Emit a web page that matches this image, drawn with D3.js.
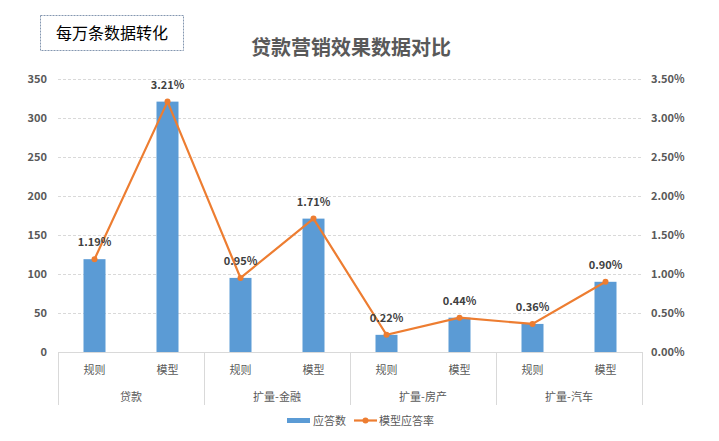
<!DOCTYPE html>
<html><head><meta charset="utf-8">
<script src="https://cdn.jsdelivr.net/npm/d3@7"></script>
<style>body{margin:0;background:#fff;} text{font-family:"Noto Sans CJK SC","Microsoft YaHei",sans-serif;}</style>
</head><body>
<svg id="chart" width="719" height="441"></svg>
<script>
const groups = ["贷款", "扩量-金融", "扩量-房产", "扩量-汽车"];
const subCats = ["规则", "模型"];
const counts = [119, 321, 95, 171, 22, 44, 36, 90];
const rates = [0.0119, 0.0321, 0.0095, 0.0171, 0.0022, 0.0044, 0.0036, 0.0090];
const rateLabels = ["1.19%", "3.21%", "0.95%", "1.71%", "0.22%", "0.44%", "0.36%", "0.90%"];
const leftTicks = [0, 50, 100, 150, 200, 250, 300, 350];
const rightTicks = [0, 0.005, 0.01, 0.015, 0.02, 0.025, 0.03, 0.035];
const title = "贷款营销效果数据对比";
const boxText = "每万条数据转化";
const legendNames = ["应答数", "模型应答率"];

const svg = d3.select("#chart");
const L = 58, R = 642, T = 79, B = 352;
const keys = [];
groups.forEach(g => subCats.forEach(s => keys.push(g + "|" + s)));
const x = d3.scaleBand().domain(keys).range([L, R]);
const xg = d3.scaleBand().domain(groups).range([L, R]);
const yL = d3.scaleLinear().domain([0, 350]).range([B, T]);
const yR = d3.scaleLinear().domain([0, 0.035]).range([B, T]);
const barColor = "#5B9BD5", lineColor = "#ED7D31", tickColor = "#595959";

// gridlines
svg.append("g").selectAll("line").data(leftTicks.slice(1)).join("line")
  .attr("x1", L).attr("x2", R).attr("y1", d => yL(d) + 0.5).attr("y2", d => yL(d) + 0.5)
  .attr("stroke", "#d9d9d9").attr("stroke-dasharray", "3,2");

// left axis
const gl = svg.append("g").attr("transform", `translate(${L},0)`)
  .call(d3.axisLeft(yL).tickValues(leftTicks).tickSize(0).tickPadding(11).tickFormat(d3.format("d")));
gl.select(".domain").remove();
gl.selectAll("text").attr("fill", tickColor).attr("font-size", 11).attr("font-weight", "bold");

// right axis
const gr = svg.append("g").attr("transform", `translate(${R},0)`)
  .call(d3.axisRight(yR).tickValues(rightTicks).tickSize(0).tickPadding(9).tickFormat(d3.format(".2%")));
gr.select(".domain").remove();
gr.selectAll("text").attr("fill", tickColor).attr("font-size", 11).attr("font-weight", "bold");

// bars
const bw = 22;
svg.append("g").selectAll("rect").data(counts).join("rect")
  .attr("x", (d, i) => x(keys[i]) + x.bandwidth() / 2 - bw / 2)
  .attr("width", bw)
  .attr("y", d => yL(d)).attr("height", d => B - yL(d))
  .attr("fill", barColor);

// x axis line & separators
svg.append("line").attr("x1", L).attr("x2", R).attr("y1", B + 0.5).attr("y2", B + 0.5).attr("stroke", "#d9d9d9");
const seps = groups.map(g => xg(g)).concat([R]);
svg.append("g").selectAll("line").data(seps).join("line")
  .attr("x1", d => d + 0.5).attr("x2", d => d + 0.5).attr("y1", B).attr("y2", 405)
  .attr("stroke", "#d9d9d9");

// sub category labels
svg.append("g").selectAll("text").data(keys).join("text")
  .attr("x", d => x(d) + x.bandwidth() / 2).attr("y", 374)
  .attr("text-anchor", "middle").attr("font-size", 11).attr("fill", tickColor)
  .text(d => d.split("|")[1]);
// group labels
svg.append("g").selectAll("text").data(groups).join("text")
  .attr("x", d => xg(d) + xg.bandwidth() / 2).attr("y", 401)
  .attr("text-anchor", "middle").attr("font-size", 11).attr("fill", tickColor)
  .text(d => d);

// line
const line = d3.line().x((d, i) => x(keys[i]) + x.bandwidth() / 2).y(d => yR(d));
svg.append("path").datum(rates).attr("d", line).attr("fill", "none")
  .attr("stroke", lineColor).attr("stroke-width", 2.2);
svg.append("g").selectAll("circle").data(rates).join("circle")
  .attr("cx", (d, i) => x(keys[i]) + x.bandwidth() / 2).attr("cy", d => yR(d))
  .attr("r", 3).attr("fill", lineColor);
svg.append("g").selectAll("text").data(rates).join("text")
  .attr("x", (d, i) => x(keys[i]) + x.bandwidth() / 2).attr("y", d => yR(d) - 13)
  .attr("text-anchor", "middle").attr("font-size", 11).attr("font-weight", "bold").attr("fill", "#404040")
  .text((d, i) => rateLabels[i]);

// title
svg.append("text").attr("x", 351).attr("y", 55).attr("text-anchor", "middle")
  .attr("font-size", 20).attr("font-weight", "bold").attr("fill", "#595959").text(title);

// box
svg.append("rect").attr("x", 40.5).attr("y", 15.5).attr("width", 143).attr("height", 35)
  .attr("fill", "#fff").attr("stroke", "#8497b0").attr("stroke-dasharray", "2,1");
svg.append("text").attr("x", 112).attr("y", 39).attr("text-anchor", "middle")
  .attr("font-size", 16).attr("fill", "#000").text(boxText);

// legend
const lg = svg.append("g");
lg.append("rect").attr("x", 287).attr("y", 418).attr("width", 23).attr("height", 5).attr("fill", barColor);
lg.append("text").attr("x", 313).attr("y", 425).attr("font-size", 11).attr("fill", tickColor).text(legendNames[0]);
lg.append("line").attr("x1", 354).attr("x2", 377).attr("y1", 420.5).attr("y2", 420.5).attr("stroke", lineColor).attr("stroke-width", 2.2);
lg.append("circle").attr("cx", 365.5).attr("cy", 420.5).attr("r", 3).attr("fill", lineColor);
lg.append("text").attr("x", 379).attr("y", 425).attr("font-size", 11).attr("fill", tickColor).text(legendNames[1]);
</script>
</body></html>
